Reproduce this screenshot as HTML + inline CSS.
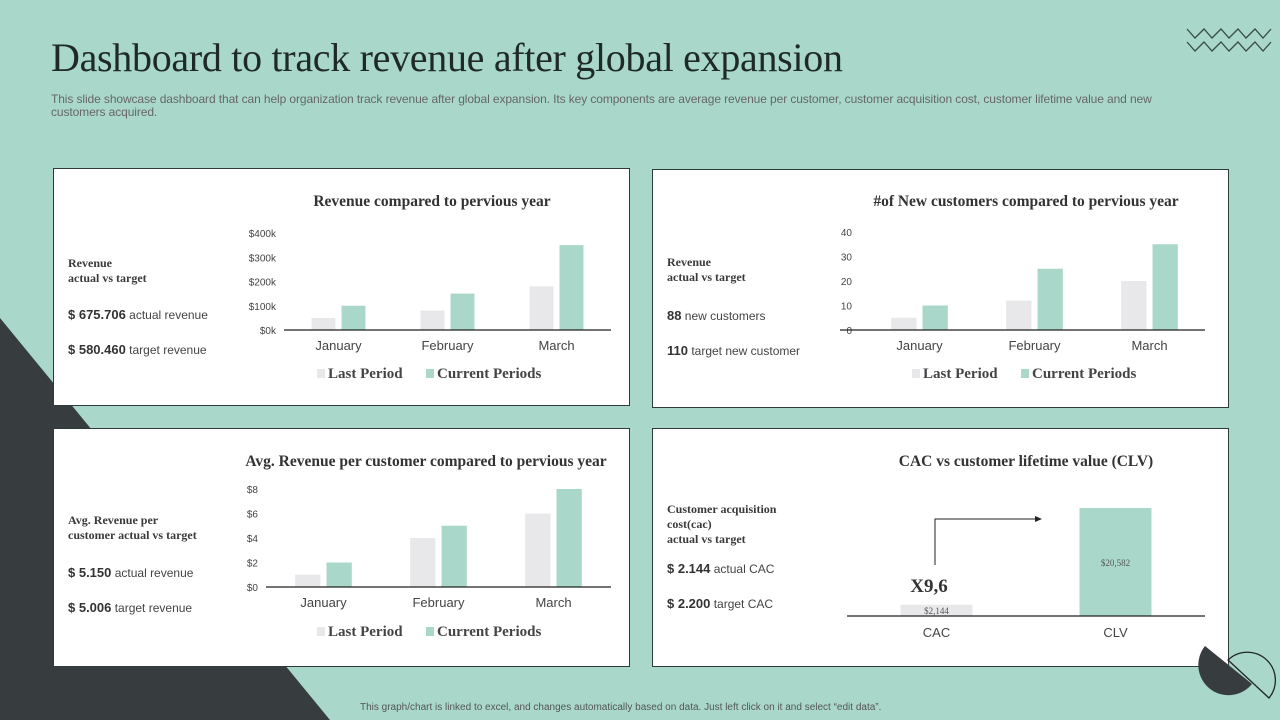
<!DOCTYPE html>
<html><head><meta charset="utf-8"><style>
body{margin:0;width:1280px;height:720px;overflow:hidden;background:#a9d8ca;font-family:"Liberation Sans",sans-serif;position:relative}
.abs{position:absolute}
.panel{position:absolute;background:#fff;border:1px solid #2f3a3a;box-sizing:border-box}
.serif{font-family:"Liberation Serif",serif}
.lbl{position:absolute;left:14px;font-family:"Liberation Serif",serif;font-weight:bold;font-size:12px;color:#3a3a3a;line-height:15px}
.val{position:absolute;left:14px;font-size:12px;color:#444}
.val b{font-size:13px;color:#333}
svg text{font-family:"Liberation Sans",sans-serif}
</style></head><body>
<svg class="abs" style="left:0;top:0" width="1280" height="720">
<polygon points="0,318 330,720 0,720" fill="#373d3f"/>
<polyline points="1187,29 1195,38 1204,29 1212,38 1221,29 1229,38 1238,29 1246,38 1255,29 1263,38 1271,29" fill="none" stroke="#3a4a46" stroke-width="1.3"/>
<polyline points="1187,42 1195,51 1204,42 1212,51 1221,42 1229,51 1238,42 1246,51 1255,42 1263,51 1271,42" fill="none" stroke="#3a4a46" stroke-width="1.3"/>
</svg>
<div class="abs serif" style="left:51px;top:34px;font-size:40px;letter-spacing:-0.3px;color:#1f2a28">Dashboard to track revenue after global expansion</div>
<div class="abs" style="left:51px;top:93px;width:1180px;font-size:12px;line-height:13px;color:#666;letter-spacing:-0.1px;white-space:nowrap">This slide showcase dashboard that can help organization track revenue after global expansion. Its key components are average revenue per customer, customer acquisition cost, customer lifetime value and new<br>customers acquired.</div>

<div class="panel" style="left:53px;top:168px;width:577px;height:238px">
<div class="lbl" style="top:87px">Revenue<br>actual vs target</div>
<div class="val" style="top:138px"><b>$ 675.706</b> actual revenue</div>
<div class="val" style="top:173px"><b>$ 580.460</b> target revenue</div>
<svg id="c1" class="abs" style="left:0;top:0" width="577" height="238"></svg>
</div>
<div class="panel" style="left:652px;top:169px;width:577px;height:239px">
<div class="lbl" style="top:85px">Revenue<br>actual vs target</div>
<div class="val" style="top:138px"><b>88</b> new customers</div>
<div class="val" style="top:173px"><b>110</b> target new customer</div>
<svg id="c2" class="abs" style="left:0;top:0" width="577" height="239"></svg>
</div>
<div class="panel" style="left:53px;top:428px;width:577px;height:239px">
<div class="lbl" style="top:84px">Avg. Revenue per<br>customer actual vs target</div>
<div class="val" style="top:136px"><b>$ 5.150</b> actual revenue</div>
<div class="val" style="top:171px"><b>$ 5.006</b> target revenue</div>
<svg id="c3" class="abs" style="left:0;top:0" width="577" height="239"></svg>
</div>
<div class="panel" style="left:652px;top:428px;width:577px;height:239px">
<div class="lbl" style="top:73px">Customer acquisition<br>cost(cac)<br>actual vs target</div>
<div class="val" style="top:132px"><b>$ 2.144</b> actual CAC</div>
<div class="val" style="top:167px"><b>$ 2.200</b> target CAC</div>
<svg id="c4" class="abs" style="left:0;top:0" width="577" height="239"></svg>
</div>
<svg class="abs" style="left:1190px;top:630px" width="90" height="90">
<path d="M15,16 A30,30 0 0 0 62,54 Z" fill="#373d3f"/>
<path d="M38,30 A28,28 0 0 1 79,68 Z" fill="#a9d8ca" stroke="#1f2626" stroke-width="1.3"/>
</svg>
<div class="abs" style="left:360px;top:702px;font-size:10px;color:#555">This graph/chart is linked to excel, and changes automatically based on data. Just left click on it and select “edit data”.</div>

<script>
const months = ["January","February","March"];
const revLast = [50,80,180];
const revCurr = [100,150,350];
const revTicks = ["$0k","$100k","$200k","$300k","$400k"];
const custLast = [5,12,20];
const custCurr = [10,25,35];
const custTicks = ["0","10","20","30","40"];
const avgLast = [1,4,6];
const avgCurr = [2,5,8];
const avgTicks = ["$0","$2","$4","$6","$8"];
const cacCats = ["CAC","CLV"];
const cacVals = [2144,20582];
const cacLabels = ["$2,144","$20,582"];
const NS="http://www.w3.org/2000/svg";
function mk(svg,tag,attrs,txt){const e=document.createElementNS(NS,tag);for(const k in attrs)e.setAttribute(k,attrs[k]);if(txt!==undefined)e.textContent=txt;svg.appendChild(e);return e;}
function bar(id,title,titleX,titleY,ax0,ax1,x0,x1,y0,yTop,max,ticks,last,curr,tickX,catY,legY,legX){
 const svg=document.getElementById(id);
 const t=mk(svg,'text',{x:titleX,y:titleY,'text-anchor':'middle','font-size':15.5,'font-weight':'bold',fill:'#333',style:'font-family:"Liberation Serif",serif'},title);
 
 const ys=v=>y0-(v/max)*(y0-yTop);
 ticks.forEach((tk,i)=>{const v=max*i/(ticks.length-1);const e=mk(svg,'text',{x:tickX,y:ys(v)+4,'text-anchor':'end','font-size':10,fill:'#444'},tk);
  });
 const w=(x1-x0)/months.length, bw=Math.min(w*0.22,26);
 months.forEach((m,i)=>{const c=x0+w*(i+0.5);
  const a=mk(svg,'rect',{x:c-bw-3,y:ys(last[i]),width:bw,height:y0-ys(last[i]),fill:'#e8e8ea'});
  
  const b=mk(svg,'rect',{x:c+3,y:ys(curr[i]),width:bw,height:y0-ys(curr[i]),fill:'#a9d8ca'});
  
  const l=mk(svg,'text',{x:c,y:catY,'text-anchor':'middle','font-size':13,fill:'#444'},m);
  });
 const ax=mk(svg,'line',{x1:ax0,x2:ax1,y1:y0,y2:y0,stroke:'#222','stroke-width':1.2});
 
 const g=mk(svg,'g',{});
 mk(g,'rect',{x:legX,y:legY-9,width:8,height:9,fill:'#e8e8ea'});
 mk(g,'text',{x:legX+11,y:legY,'font-size':15,'font-weight':'bold',fill:'#444',style:'font-family:"Liberation Serif",serif'},'Last Period');
 mk(g,'rect',{x:legX+109,y:legY-9,width:8,height:9,fill:'#a9d8ca'});
 mk(g,'text',{x:legX+120,y:legY,'font-size':15,'font-weight':'bold',fill:'#444',style:'font-family:"Liberation Serif",serif'},'Current Periods');
}
bar('c1','Revenue compared to pervious year',378,37,230,557,230,557,161,64,400,revTicks,revLast,revCurr,222,181,209,263);
bar('c2','#of New customers compared to pervious year',373,36,187,552,209,554,160,62,40,custTicks,custLast,custCurr,199,180,208,259);
bar('c3','Avg. Revenue per customer compared to pervious year',372,37,212,557,212,557,158,60,8,avgTicks,avgLast,avgCurr,204,178,207,263);
(function(){
 const svg=document.getElementById('c4');
 const t=mk(svg,'text',{x:373,y:37,'text-anchor':'middle','font-size':15.5,'font-weight':'bold',fill:'#333',style:'font-family:"Liberation Serif",serif'},'CAC vs customer lifetime value (CLV)');
 
 const x0=194,x1=552,y0=187,max=20582,hMax=108;
 const ys=v=>y0-v/max*hMax;
 const w=(x1-x0)/cacCats.length;
 cacCats.forEach((c,i)=>{const cx=x0+w*(i+0.5);
  const b=mk(svg,'rect',{x:cx-36,y:ys(cacVals[i]),width:72,height:y0-ys(cacVals[i]),fill:i?'#a9d8ca':'#e8e8ea'});
  
  const lv=mk(svg,'text',{x:cx,y:i?ys(cacVals[i])+58:y0-2,'text-anchor':'middle','font-size':9,fill:'#555',style:'font-family:"Liberation Serif",serif'},cacLabels[i]);
  
  const l=mk(svg,'text',{x:cx,y:208,'text-anchor':'middle','font-size':13,fill:'#444'},c);
  });
 const ax=mk(svg,'line',{x1:x0,x2:x1,y1:y0,y2:y0,stroke:'#222','stroke-width':1.2});
 
 const ar=mk(svg,'polyline',{points:'282,136 282,90 384,90',fill:'none',stroke:'#222','stroke-width':1});
 
 mk(svg,'polygon',{points:'389,90 382,87 382,93',fill:'#222'});
 const x=mk(svg,'text',{x:276,y:163,'text-anchor':'middle','font-size':19,'font-weight':'bold',fill:'#333',style:'font-family:"Liberation Serif",serif'},'X9,6');
 
})();
</script>
</body></html>
